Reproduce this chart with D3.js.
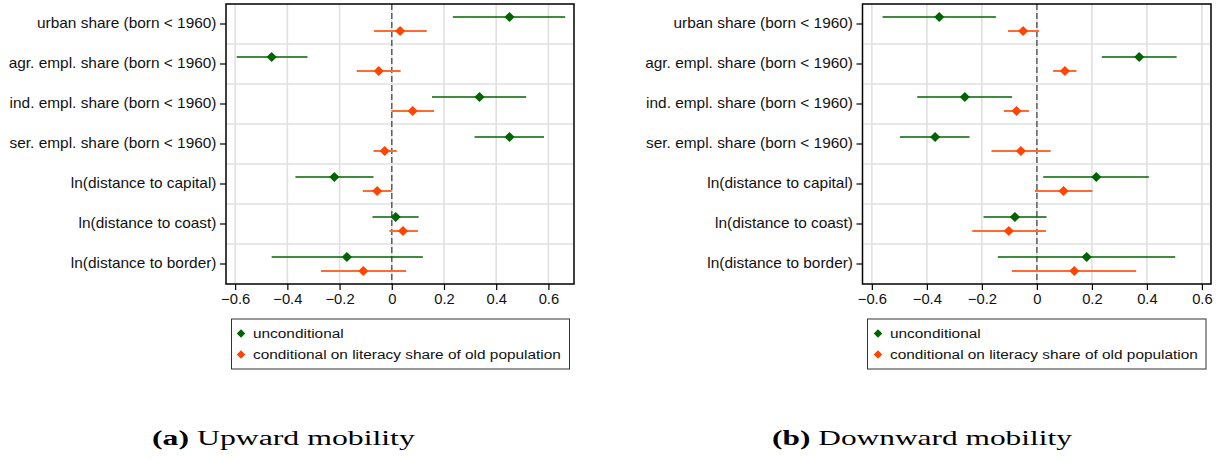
<!DOCTYPE html>
<html><head><meta charset="utf-8">
<script src="https://cdn.jsdelivr.net/npm/d3@7"></script>
<style>
html,body{margin:0;padding:0;background:#fff;}
svg{display:block;}
</style></head>
<body>
<svg id="chart" width="1222" height="460"></svg>
<script>
const categories = [
  "urban share (born < 1960)",
  "agr. empl. share (born < 1960)",
  "ind. empl. share (born < 1960)",
  "ser. empl. share (born < 1960)",
  "ln(distance to capital)",
  "ln(distance to coast)",
  "ln(distance to border)"
];
const xTicks = [-0.6, -0.4, -0.2, 0, 0.2, 0.4, 0.6];
const seriesNames = ["unconditional", "conditional on literacy share of old population"];
const panelTitles = ["Upward mobility", "Downward mobility"];
const panelLetters = ["(a)", "(b)"];

// Upward mobility
const upUncondEst = [0.451, -0.460, 0.336, 0.451, -0.220, 0.015, -0.172];
const upUncondLo  = [0.234, -0.594, 0.154, 0.317, -0.369, -0.074, -0.460];
const upUncondHi  = [0.664, -0.323, 0.515, 0.583, -0.070, 0.103, 0.119];
const upCondEst   = [0.032, -0.050, 0.080, -0.027, -0.056, 0.043, -0.109];
const upCondLo    = [-0.068, -0.134, -0.001, -0.070, -0.111, -0.009, -0.271];
const upCondHi    = [0.134, 0.034, 0.162, 0.019, 0.000, 0.100, 0.055];

// Downward mobility
const downUncondEst = [-0.355, 0.372, -0.262, -0.370, 0.216, -0.080, 0.181];
const downUncondLo  = [-0.561, 0.236, -0.435, -0.498, 0.023, -0.194, -0.142];
const downUncondHi  = [-0.149, 0.508, -0.090, -0.245, 0.407, 0.035, 0.503];
const downCondEst   = [-0.050, 0.102, -0.074, -0.058, 0.097, -0.102, 0.136];
const downCondLo    = [-0.105, 0.059, -0.120, -0.165, -0.007, -0.235, -0.091];
const downCondHi    = [0.008, 0.144, -0.029, 0.050, 0.202, 0.033, 0.361];

const panels = [
  { left: 226, right: 574, domain: [-0.635, 0.698], legend: [231.5, 569.5], marker: 241, textX: 253,
    caption: 152, captionW: 263,
    series: [
      {est: upUncondEst, lo: upUncondLo, hi: upUncondHi},
      {est: upCondEst, lo: upCondLo, hi: upCondHi}
    ]},
  { left: 862.5, right: 1211, domain: [-0.634, 0.633], legend: [867.5, 1206], marker: 878, textX: 890,
    caption: 772, captionW: 300,
    series: [
      {est: downUncondEst, lo: downUncondLo, hi: downUncondHi},
      {est: downCondEst, lo: downCondLo, hi: downCondHi}
    ]}
];

const colors = ["#006400", "#ff4500"];
const lineColors = ["#006400", "#ff6a33"];
const lineWidths = [1.4, 2];
const offsets = [-7, 7];
const plotTop = 4, plotBottom = 284;
const font = "Liberation Sans, Arial, sans-serif";
const serif = "Liberation Serif, Times New Roman, serif";

const svg = d3.select("#chart");
const diamond = d3.symbol().type(d3.symbolDiamond2).size(66);

// horizontal stretch needed so that a sample string reaches a target width
function stretch(sample, family, size, target) {
  const t = svg.append("text").attr("font-family", family).attr("font-size", size).text(sample);
  const w = t.node().getComputedTextLength();
  t.remove();
  return target / w;
}
const ySize = 14, xSize = 14.5, lSize = 13.5, cSize = 20;
const ySx = stretch("agr. empl. share (born < 1960)", font, ySize, 208);
const xSx = stretch("-0.6", font, xSize, 25.5);
const lSx = stretch("conditional on literacy share of old population", font, lSize, 308);

panels.forEach((p, pi) => {
  const x = d3.scaleLinear().domain(p.domain).range([p.left, p.right]);
  const y = d3.scaleBand().domain(categories).range([plotTop, plotBottom]);
  const g = svg.append("g");

  g.selectAll(".vg").data(xTicks).join("line")
    .attr("x1", d => x(d)).attr("x2", d => x(d))
    .attr("y1", plotTop).attr("y2", plotBottom)
    .attr("stroke", "#e0e0e0").attr("stroke-width", 1.6);
  g.selectAll(".hg").data(categories.slice(1)).join("line")
    .attr("x1", p.left).attr("x2", p.right)
    .attr("y1", d => y(d)).attr("y2", d => y(d))
    .attr("stroke", "#e0e0e0").attr("stroke-width", 1.6);
  g.append("line")
    .attr("x1", x(0)).attr("x2", x(0)).attr("y1", plotTop).attr("y2", plotBottom)
    .attr("stroke", "#555").attr("stroke-width", 1.4).attr("stroke-dasharray", "6,3");

  p.series.forEach((s, si) => {
    const cy = i => y(categories[i]) + y.bandwidth() / 2 + offsets[si];
    g.selectAll(".ci" + si).data(s.est).join("line")
      .attr("x1", (d, i) => x(s.lo[i])).attr("x2", (d, i) => x(s.hi[i]))
      .attr("y1", (d, i) => cy(i)).attr("y2", (d, i) => cy(i))
      .attr("stroke", lineColors[si]).attr("stroke-width", lineWidths[si]);
    g.selectAll(".pt" + si).data(s.est).join("path")
      .attr("d", diamond)
      .attr("transform", (d, i) => `translate(${x(d)},${cy(i)})`)
      .attr("fill", colors[si]);
  });

  g.append("rect").attr("x", p.left).attr("y", plotTop)
    .attr("width", p.right - p.left).attr("height", plotBottom - plotTop)
    .attr("fill", "none").attr("stroke", "#000").attr("stroke-width", 1.5);

  const xa = g.append("g").attr("transform", `translate(0,${plotBottom})`)
    .call(d3.axisBottom(x).tickValues(xTicks).tickSize(6).tickSizeOuter(0)
      .tickFormat(d => d === 0 ? "0" : d3.format(".1f")(d)));
  xa.select(".domain").remove();
  xa.selectAll("line").attr("stroke", "#000").attr("stroke-width", 1.2);
  xa.selectAll("text").attr("font-family", font).attr("font-size", xSize).attr("fill", "#111")
    .attr("y", 0).attr("dy", 0)
    .attr("transform", `translate(0,${19.5}) scale(${xSx},1)`);

  const ya = g.append("g").attr("transform", `translate(${p.left},0)`)
    .call(d3.axisLeft(y).tickSize(6).tickSizeOuter(0).tickPadding(3));
  ya.select(".domain").remove();
  ya.selectAll("line").attr("stroke", "#000").attr("stroke-width", 1.2);
  ya.selectAll("text").attr("font-family", font).attr("font-size", ySize).attr("fill", "#111")
    .attr("x", 0).attr("transform", `translate(-9.5,0) scale(${ySx},1)`);

  const lg = g.append("g");
  lg.append("rect").attr("x", p.legend[0]).attr("y", 319)
    .attr("width", p.legend[1] - p.legend[0]).attr("height", 50)
    .attr("fill", "#fff").attr("stroke", "#333").attr("stroke-width", 1);
  seriesNames.forEach((name, si) => {
    const ly = 333.5 + si * 21;
    lg.append("path").attr("d", d3.symbol().type(d3.symbolDiamond2).size(46))
      .attr("transform", `translate(${p.marker},${ly})`).attr("fill", colors[si]);
    lg.append("text").attr("x", 0).attr("y", 0).attr("dy", "0.35em")
      .attr("transform", `translate(${p.textX},${ly}) scale(${lSx},1)`)
      .attr("font-family", font).attr("font-size", lSize).attr("fill", "#111").text(name);
  });

  const cap = svg.append("text").attr("x", 0).attr("y", 0)
    .attr("font-family", serif).attr("font-size", cSize).attr("fill", "#000");
  cap.append("tspan").attr("font-weight", "bold").text(panelLetters[pi]);
  cap.append("tspan").text(" " + panelTitles[pi]);
  const cw = cap.node().getBBox().width;
  cap.attr("transform", `translate(${p.caption},445) scale(${p.captionW / cw},1)`);
});
</script>
</body></html>
